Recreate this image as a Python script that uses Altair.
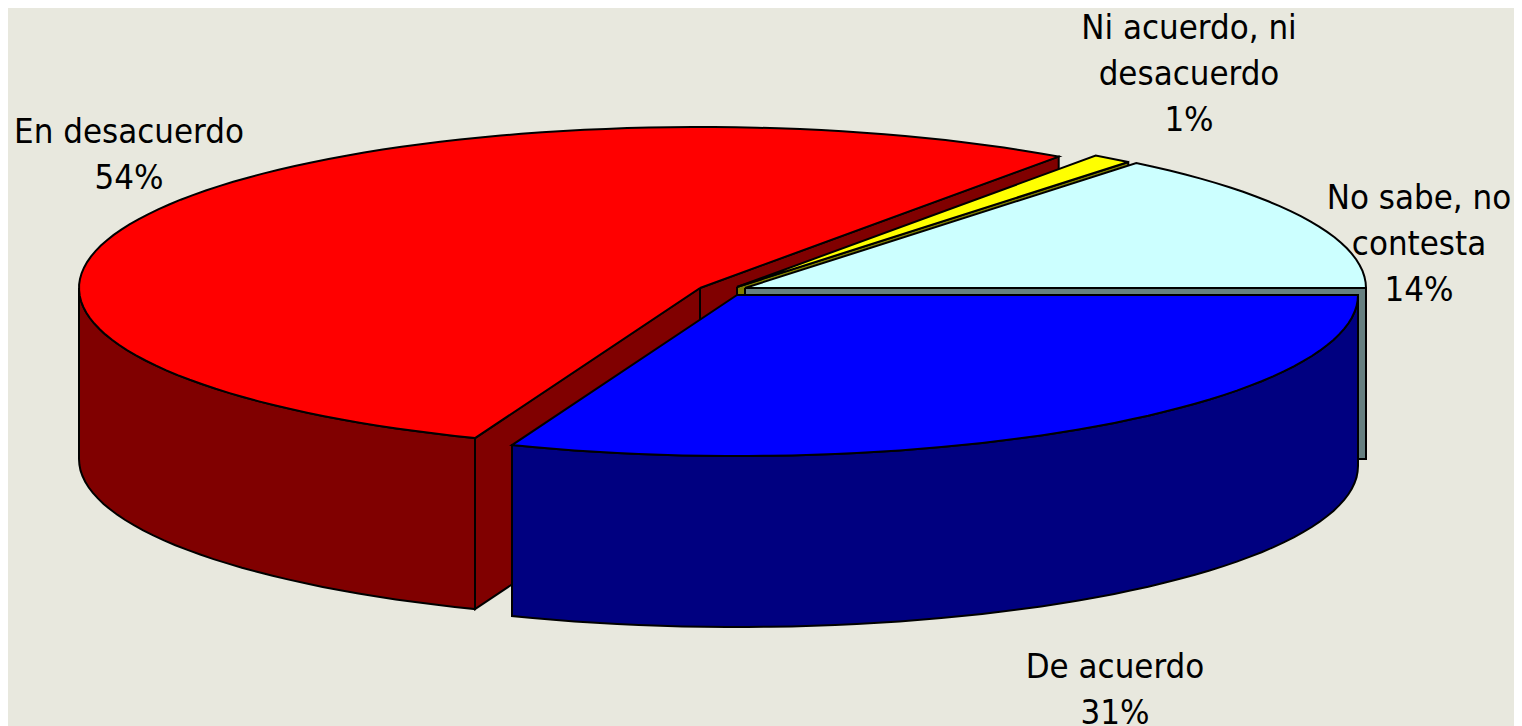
import math
import altair as alt
import pandas as pd

# Chart values
categories = ["De acuerdo", "En desacuerdo", "Ni acuerdo, ni desacuerdo", "No sabe, no contesta"]
shares = [30.9, 53.9, 1.05, 14.15]          # slice sizes
top_colors = ["#0000FF", "#FF0000", "#FFFF00", "#CCFFFF"]
side_colors = ["#000080", "#800000", "#808000", "#668080"]
label_lines = [
    ["De acuerdo", "31%"],
    ["En desacuerdo", "54%"],
    ["Ni acuerdo, ni", "desacuerdo", "1%"],
    ["No sabe, no", "contesta", "14%"],
]

# Pie geometry, in page pixels
RX, RY, DEPTH = 621, 161, 171
centers = [(737, 295), (700, 288), (737, 287), (745, 288)]
label_anchor = [(1115, 678), (129, 143), (1189, 39), (1419, 209)]
LINE_STEP = 46
BG = "#E8E8DE"

cum = [0.0]
for s in shares:
    cum.append(cum[-1] + s * 3.6)
spans = list(zip(cum[:-1], cum[1:]))


def pt(c, deg, down=0):
    r = math.radians(deg)
    return (c[0] + RX * math.cos(r), c[1] + RY * math.sin(r) + down)


def arc(c, a0, a1, down=0):
    n = max(2, int(abs(a1 - a0) / 2) + 1)
    return [pt(c, a0 + (a1 - a0) * i / (n - 1), down) for i in range(n)]


def top(c, a0, a1):
    return [c] + arc(c, a0, a1) + [c]


def radial(c, deg):
    p = pt(c, deg)
    return [c, p, (p[0], p[1] + DEPTH), (c[0], c[1] + DEPTH), c]


def rim(c, a0, a1):
    f = arc(c, a0, a1)
    return f + arc(c, a1, a0, DEPTH) + [f[0]]


B, R, Y, C = 0, 1, 2, 3
polys = [
    ("r1", radial(centers[R], spans[R][1]), side_colors[R]),
    ("r2", radial(centers[R], spans[R][0]), side_colors[R]),
    ("r3", rim(centers[R], spans[R][0], 180), side_colors[R]),
    ("r4", top(centers[R], *spans[R]), top_colors[R]),
    ("y1", radial(centers[Y], spans[Y][1]), side_colors[Y]),
    ("y2", top(centers[Y], *spans[Y]), top_colors[Y]),
    ("c1", radial(centers[C], 0), side_colors[C]),
    ("c2", top(centers[C], *spans[C]), top_colors[C]),
    ("b1", rim(centers[B], 0, spans[B][1]), side_colors[B]),
    ("b2", top(centers[B], *spans[B]), top_colors[B]),
]

rows = []
for name, pts, _ in polys:
    for i, (x, y) in enumerate(pts):
        rows.append({"poly": name, "seq": i, "x": round(x, 1), "y": round(y, 1)})
df = pd.DataFrame(rows)

text_rows = []
for lines, (ax, ay) in zip(label_lines, label_anchor):
    for i, t in enumerate(lines):
        text_rows.append({"t": t, "x": ax, "y": ay + i * LINE_STEP})
tdf = pd.DataFrame(text_rows)

xs = alt.Scale(domain=[8, 1514], range=[0, 1506], nice=False, zero=False)
ys = alt.Scale(domain=[8, 726], range=[0, 718], nice=False, zero=False)
X = alt.X("x:Q", scale=xs, axis=None)
Y_ = alt.Y("y:Q", scale=ys, axis=None)

layers = []
for name, _, fill in polys:
    layers.append(
        alt.Chart(df)
        .transform_filter(alt.datum.poly == name)
        .mark_line(fill=fill, stroke="#000000", strokeWidth=2, strokeJoin="miter", clip=False)
        .encode(x=X, y=Y_, order=alt.Order("seq:Q"))
    )

text = (
    alt.Chart(tdf)
    .mark_text(font="DejaVu Sans Condensed", fontSize=34.5, color="#000000", align="center", baseline="alphabetic")
    .encode(x=X, y=Y_, text="t:N")
)

chart = (
    alt.layer(*layers, text)
    .properties(width=1506, height=718, padding=0, background=BG)
    .configure_view(stroke=None)
)

chart.save("out.html", embed_options={"renderer": "svg", "actions": False})
